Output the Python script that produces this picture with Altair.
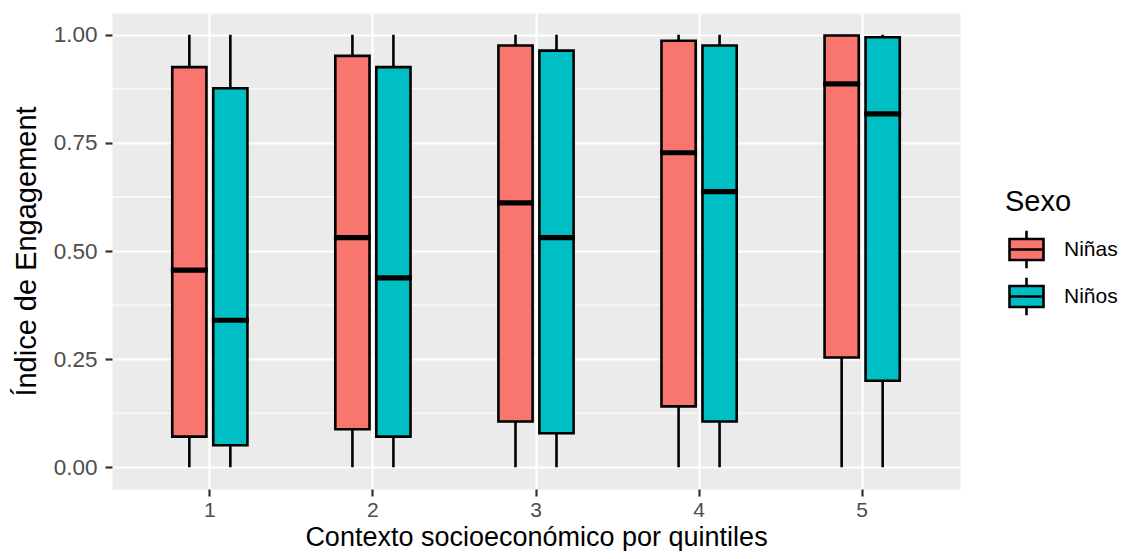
import altair as alt
import pandas as pd

FONT = "Liberation Sans"

quintiles = ["1", "2", "3", "4", "5"]
sexos = ["Niñas", "Niños"]
colores = ["#F8766D", "#00BFC4"]

ninas_min = [0.0, 0.0, 0.0, 0.0, 0.0]
ninas_q1 = [0.071, 0.088, 0.106, 0.141, 0.254]
ninas_med = [0.456, 0.531, 0.611, 0.727, 0.886]
ninas_q3 = [0.925, 0.951, 0.975, 0.986, 0.998]
ninas_max = [1.0, 1.0, 1.0, 1.0, 1.0]

ninos_min = [0.0, 0.0, 0.0, 0.0, 0.0]
ninos_q1 = [0.051, 0.071, 0.079, 0.106, 0.200]
ninos_med = [0.340, 0.438, 0.531, 0.637, 0.817]
ninos_q3 = [0.876, 0.925, 0.963, 0.975, 0.994]
ninos_max = [1.0, 1.0, 1.0, 1.0, 1.0]

minor_breaks = [0.125, 0.375, 0.625, 0.875]
major_breaks = [0.0, 0.25, 0.5, 0.75, 1.0]

rows = []
for sexo, mins, q1s, meds, q3s, maxs in [
    ("Niñas", ninas_min, ninas_q1, ninas_med, ninas_q3, ninas_max),
    ("Niños", ninos_min, ninos_q1, ninos_med, ninos_q3, ninos_max),
]:
    for i, q in enumerate(quintiles):
        rows.append(dict(quintil=q, sexo=sexo, lo=mins[i], q1=q1s[i],
                         med=meds[i], q3=q3s[i], hi=maxs[i]))
df = pd.DataFrame(rows)
minor_df = pd.DataFrame({"v": minor_breaks})

YTITLE = "Índice de Engagement"
y_scale = alt.Scale(domain=[-0.05, 1.05], nice=False, zero=False)

x_enc = alt.X(
    "quintil:N",
    title="Contexto socioeconómico por quintiles",
    scale=alt.Scale(domain=quintiles, paddingInner=0, paddingOuter=0.1),
    axis=alt.Axis(labelAngle=0, grid=True, bandPosition=0.5, labelPadding=3,
                  labelFontSize=21, titleY=56, titleBaseline="alphabetic",
                  titleFontSize=27),
)
# two empty slots around the pair keep the dodged boxes close to the centre
xoff = alt.XOffset("sexo:N", scale=alt.Scale(domain=["_a"] + sexos + ["_b"],
                                             paddingInner=0.166,
                                             paddingOuter=0.072))

y_axis = alt.Axis(values=major_breaks, format=".2f", labelPadding=8,
                  titleX=-77, titleBaseline="alphabetic")

minor = alt.Chart(minor_df).mark_rule(color="white", strokeWidth=1.1).encode(
    y=alt.Y("v:Q", scale=y_scale, title=YTITLE, axis=y_axis)
)

base = alt.Chart(df)

whiskers = base.mark_rule(color="black", strokeWidth=2.6).encode(
    x=x_enc, xOffset=xoff,
    y=alt.Y("lo:Q", scale=y_scale, title=YTITLE, axis=y_axis),
    y2="hi:Q",
)

PATH = "M-1,-0.62H1V0.62H-1Z M-1,0H1 M0,-0.62V-1.1 M0,0.62V1.1"

boxes = base.mark_bar(stroke="black", strokeWidth=2.6).encode(
    x=x_enc, xOffset=xoff,
    y=alt.Y("q1:Q", scale=y_scale, title=YTITLE, axis=y_axis),
    y2="q3:Q",
    fill=alt.Fill(
        "sexo:N",
        scale=alt.Scale(domain=sexos, range=colores),
        legend=alt.Legend(
            title="Sexo", orient="none", legendX=893, legendY=175,
            symbolType=PATH, symbolSize=1156, symbolStrokeColor="black",
            symbolStrokeWidth=2.6, symbolOffset=3, labelOffset=19,
            rowPadding=-2, titlePadding=14, labelFontSize=21, titleFontSize=29,
            labelColor="black", titleColor="black", titleFontWeight="normal",
            labelFont=FONT, titleFont=FONT, padding=0,
        ),
    ),
)

medians = base.mark_tick(color="black", thickness=5.2, size=37, opacity=1).encode(
    x=x_enc, xOffset=xoff,
    y=alt.Y("med:Q", scale=y_scale, title=YTITLE, axis=y_axis),
)

chart = alt.layer(minor, whiskers, boxes, medians).properties(
    width=848, height=476,
    padding={"left": 104, "top": 5, "right": 159, "bottom": 62},
    autosize=alt.AutoSizeParams(type="none"),
).configure(font=FONT).configure_view(
    fill="#EBEBEB", stroke="transparent"
).configure_axis(
    domain=False, labelFontSize=22.5, labelColor="#4D4D4D", labelFont=FONT,
    tickColor="#333333", tickSize=7, tickWidth=2.2,
    gridColor="white", gridWidth=2.2, gridOpacity=1,
    titleFontSize=29, titleFontWeight="normal", titleColor="black", titleFont=FONT,
)

chart.save("out.html", embed_options={"renderer": "svg", "actions": False})
